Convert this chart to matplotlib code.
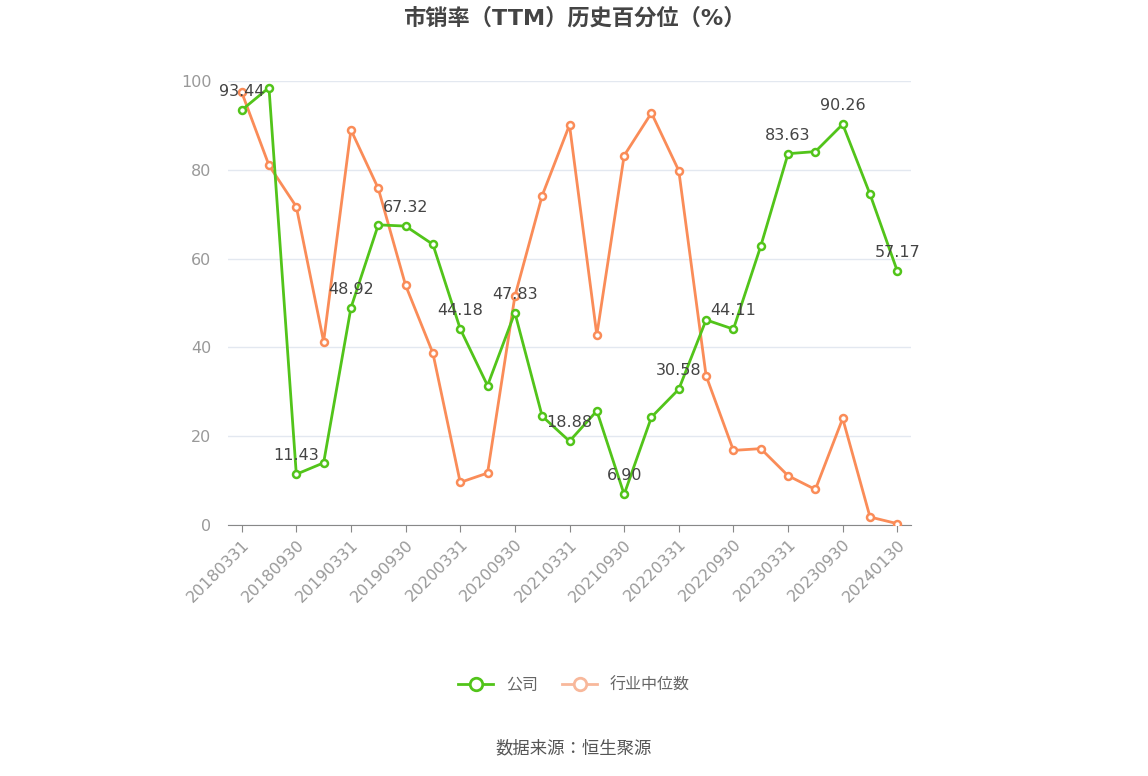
import matplotlib
matplotlib.use("Agg")
import matplotlib.pyplot as plt
from matplotlib.lines import Line2D

plt.rcParams["font.family"] = ["DejaVu Sans", "Noto Sans CJK SC", "Noto Sans CJK JP", "Noto Sans CJK TC"]

dates = ["20180331","20180630","20180930","20181231","20190331","20190630","20190930","20191231",
         "20200331","20200630","20200930","20201231","20210331","20210630","20210930","20211231",
         "20220331","20220630","20220930","20221231","20230331","20230630","20230930","20231231","20240130"]
company = [93.44,98.5,11.43,14.0,48.92,67.6,67.32,63.2,44.18,31.4,47.83,24.5,18.88,25.7,6.90,24.3,
           30.58,46.2,44.11,62.8,83.63,84.1,90.26,74.5,57.17]
industry = [97.5,81.0,71.7,41.3,89.0,75.8,54.0,38.7,9.6,11.7,51.5,74.2,90.1,42.8,83.2,92.8,
            79.8,33.6,16.8,17.2,11.1,8.0,24.0,1.8,0.3]

green = "#52c41a"; orange = "#fa8c58"
fig = plt.figure(figsize=(11.48, 7.76), dpi=100)
ax = fig.add_axes([228/1148, 1-525/776, (911-228)/1148, (525-81)/776])
x = list(range(len(dates)))
ax.plot(x, industry, color=orange, lw=2, marker="o", ms=5, mfc="white", mec=orange, mew=1.8, zorder=3)
ax.plot(x, company, color=green, lw=2, marker="o", ms=5, mfc="white", mec=green, mew=1.8, zorder=4)
for i in range(0, len(dates), 2):
    ax.annotate(f"{company[i]:.2f}", (i, company[i]), xytext=(0, 8), textcoords="offset points",
                ha="center", va="bottom", fontsize=11.5, color="#444444", zorder=5)
ax.set_xlim(-0.5, 24.5); ax.set_ylim(0, 100)
ax.set_yticks([0,20,40,60,80,100])
ax.set_xticks(x[::2]); ax.set_xticklabels(dates[::2], rotation=45, ha="right", rotation_mode="anchor")
ax.tick_params(axis="y", length=0, labelsize=11.5, labelcolor="#999999", pad=12)
ax.tick_params(axis="x", length=5, color="#888888", labelsize=11.5, labelcolor="#999999")
ax.grid(axis="y", color="#e3e8f0", lw=1)
for s in ["top","right","left"]: ax.spines[s].set_visible(False)
ax.spines["bottom"].set_color("#888888")
ax.set_axisbelow(True)
fig.text(0.5, 1-18/776, "市销率（TTM）历史百分位（%）", ha="center", va="center", fontsize=16, fontweight="bold", color="#444444")
h = [Line2D([], [], color=green, lw=2, marker="o", ms=9, mfc="white", mew=2),
     Line2D([], [], color="#f8b89b", lw=2, marker="o", ms=9, mfc="white", mew=2)]
fig.legend(h, ["公司", "行业中位数"], loc="center", bbox_to_anchor=(0.5, 1-685/776), ncol=2, frameon=False,
           fontsize=11.5, labelcolor="#666666", handlelength=2.2, columnspacing=1.5)
fig.text(0.5, 1-748/776, "数据来源：恒生聚源", ha="center", va="center", fontsize=12.5, color="#555555")
fig.savefig("out.png", dpi=100)
